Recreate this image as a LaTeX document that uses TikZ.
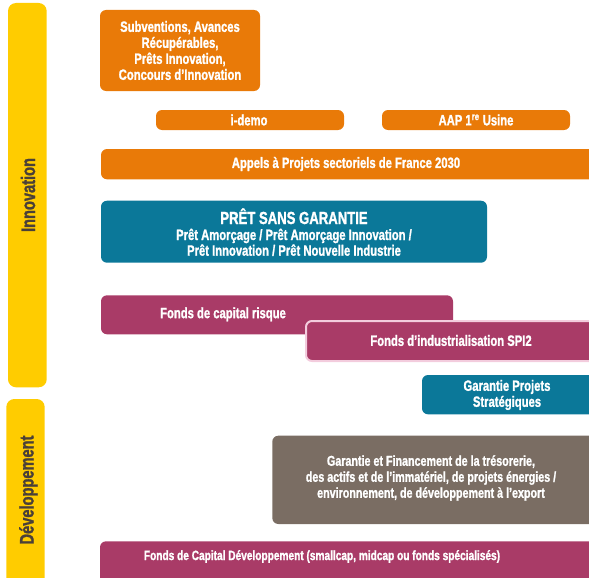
\documentclass[tikz,border=0pt]{standalone}
\usepackage{fontspec}
\setmainfont{Liberation Sans}[FakeStretch=0.75, BoldFeatures={FakeBold=1.3}]
\definecolor{bpiorange}{HTML}{E97A08}
\definecolor{bpiteal}{HTML}{0B7899}
\definecolor{bpipink}{HTML}{A93B67}
\definecolor{bpigray}{HTML}{7A6D63}
\definecolor{bpiyellow}{HTML}{FFCC00}
\definecolor{bpidark}{HTML}{4A4038}
\definecolor{bpiedge}{HTML}{F3CCDD}
\tikzset{
  panel/.style={rounded corners=6pt},
  bar/.style={fill=bpiyellow, rounded corners=8pt},
  lbl/.style={text=white, font=\bfseries\fontsize{15pt}{16pt}\selectfont, align=center, inner sep=0pt},
  bartext/.style={text=bpidark, font=\bfseries\fontsize{19.5pt}{20pt}\selectfont, rotate=90, anchor=base, inner sep=0pt},
}
\begin{document}
\begin{tikzpicture}[x=1pt, y=-1pt]
\useasboundingbox (0,0) rectangle (589,578);
\clip (0,0) rectangle (589,578);

% phase bars
\fill[bar] (8,3) rectangle (46.7,387.3);
\node[bartext] (innov) at (35,195) {Innovation};
\fill[bar] (6.3,399) rectangle (44.7,600);
\node[bartext] (devel) at (33.5,490) {Développement};

% innovation financing
\fill[panel, bpiorange] (100,10) rectangle (260,91);
\node[lbl] (subv) at (180,50.5) {Subventions, Avances\\Récupérables,\\Prêts Innovation,\\Concours d’Innovation};

\fill[panel, bpiorange] (156,110) rectangle (344,130);
\node[lbl] (idemo) at (249,120) {i-demo};

\fill[panel, bpiorange] (382,110) rectangle (570,130);
\node[lbl] (aap) at (476,120) {AAP 1\textsuperscript{re} Usine};

\fill[panel, bpiorange] (101,149) rectangle (600,179.3);
\node[lbl] (appels) at (346,164) {Appels à Projets sectoriels de France 2030};

% unsecured loans
\fill[panel, bpiteal] (101,200.7) rectangle (487,262.7);
\node[lbl, anchor=base, font=\bfseries\fontsize{17.5pt}{18pt}\selectfont] (psg) at (294,224) {PRÊT SANS GARANTIE};
\node[lbl, anchor=base] (psga) at (294,240) {Prêt Amorçage / Prêt Amorçage Innovation /};
\node[lbl, anchor=base] (psgb) at (294,255.7) {Prêt Innovation / Prêt Nouvelle Industrie};

% equity funds
\fill[panel, bpipink] (101,295.3) rectangle (453,334.3);
\node[lbl] (risque) at (223,314.3) {Fonds de capital risque};

\filldraw[panel, bpipink, draw=bpiedge, line width=2pt] (306,321) rectangle (610,361);
\node[lbl] (spi) at (451,340.5) {Fonds d’industrialisation SPI2};

% guarantees
\fill[panel, bpiteal] (422,375) rectangle (600,414.3);
\node[lbl] (gps) at (507,395) {Garantie Projets\\Stratégiques};

\fill[panel, bpigray] (272.3,435.7) rectangle (600,524);
\node[lbl, font=\bfseries\fontsize{14.3pt}{16pt}\selectfont] (tres) at (431,478) {Garantie et Financement de la trésorerie,\\des actifs et de l’immatériel, de projets énergies /\\environnement, de développement à l’export};

% development capital
\fill[panel, bpipink] (100,541.3) rectangle (600,600);
\node[lbl, font=\bfseries\fontsize{13.5pt}{16pt}\selectfont] (capdev) at (322,556.5) {Fonds de Capital Développement (smallcap, midcap ou fonds spécialisés)};
\end{tikzpicture}
\end{document}
